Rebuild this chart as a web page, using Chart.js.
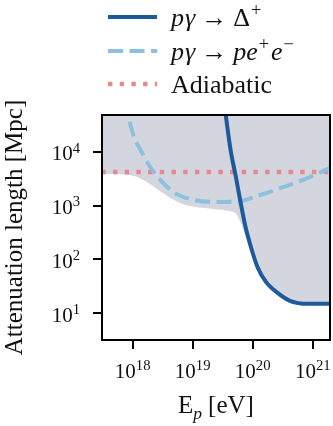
<!DOCTYPE html>
<html lang="en">
<head>
    <meta charset="UTF-8">
    <title>Attenuation length</title>
    <style>
        body {
            margin: 0;
            background: #fff;
        }
        canvas {
            display: block;
        }
    </style>
</head>
<body>
    <canvas id="chart" width="333" height="426"></canvas>

    <script src="https://cdn.jsdelivr.net/npm/chart.js"></script>
    <script>
        // values: energy in eV, attenuation length in Mpc
        const deltaE = [3.16e19, 3.55e19, 4.27e19, 5.25e19, 6.31e19, 7.59e19, 9.33e19, 1.2e20, 1.66e20, 2.63e20, 4.27e20, 8.32e20, 2.0e21];
        const deltaL = [126000, 49000, 11000, 3400, 1120, 400, 170, 72, 38, 23.4, 16.6, 14.8, 14.8];

        const pairE = [7.24e17, 8.3e17, 1.05e18, 1.35e18, 1.86e18, 2.63e18, 4.8e18, 9.3e18, 2.24e19, 5.6e19, 1.35e20, 3.3e20, 8.3e20, 2.0e21];
        const pairL = [89000, 49000, 19000, 11000, 5750, 3400, 1780, 1320, 1175, 1200, 1585, 2240, 3300, 5100];

        const adiabE = [3.0e17, 2.1e21];
        const adiabL = [4250, 4250];

        // lower edge of the shaded band (total attenuation length)
        const totalE = [2.8e17, 9.3e17, 1.5e18, 2.95e18, 5.6e18, 1.05e19, 2.24e19, 3.98e19, 5.25e19, 6.31e19, 7.24e19, 9.33e19, 1.2e20, 1.66e20, 2.63e20, 4.27e20, 8.32e20, 2.0e21];
        const totalL = [3900, 3700, 3000, 1820, 1175, 955, 870, 795, 710, 480, 316, 158, 71, 37, 23, 16.2, 14.5, 14.5];

        const xTicks = [1e18, 1e19, 1e20, 1e21];
        const yTicks = [1e1, 1e2, 1e3, 1e4];

        const FONT = '"Liberation Serif", "DejaVu Serif", serif';

        function pts(xs, ys) {
            return xs.map((x, i) => ({ x: x, y: ys[i] }));
        }

        function powParts(v) {
            return [['10', 'n'], [String(Math.round(Math.log10(v))), 'sup']];
        }

        // rich text: n = normal, i = italic, sup = superscript, sub = italic subscript, gap = space in px
        function drawRich(ctx, parts, x, y, size, measureOnly) {
            let cx = x;
            parts.forEach(p => {
                const t = p[0], s = p[1];
                if (s === 'gap') { cx += t; return; }
                let fs = size, dy = 0, style = '';
                if (s === 'i') style = 'italic ';
                if (s === 'sup') { fs = size * 0.7; dy = -size * 0.38; }
                if (s === 'sub') { fs = size * 0.7; dy = size * 0.22; style = 'italic '; }
                ctx.font = style + fs + 'px ' + FONT;
                if (!measureOnly) ctx.fillText(t, cx, y + dy);
                cx += ctx.measureText(t).width;
            });
            return cx - x;
        }

        const legendRows = [
            { ds: 0, y: 17, parts: [['p', 'i'], [1, 'gap'], ['\u03b3', 'i'], [6, 'gap'], ['\u2192', 'n'], [6, 'gap'], ['\u0394', 'n'], [1, 'gap'], ['+', 'sup']] },
            { ds: 1, y: 51, parts: [['p', 'i'], [1, 'gap'], ['\u03b3', 'i'], [6, 'gap'], ['\u2192', 'n'], [6, 'gap'], ['p', 'i'], ['e', 'i'], [1, 'gap'], ['+', 'sup'], [2, 'gap'], ['e', 'i'], [1, 'gap'], ['\u2212', 'sup']] },
            { ds: 2, y: 84, parts: [['Adiabatic', 'n']] }
        ];

        const extras = {
            id: 'extras',
            afterDatasetsDraw(chart) {
                const ctx = chart.ctx;
                const a = chart.chartArea;
                ctx.save();
                // frame round the axes
                ctx.strokeStyle = '#000';
                ctx.lineWidth = 2;
                ctx.setLineDash([]);
                ctx.strokeRect(a.left, a.top, a.right - a.left, a.bottom - a.top);
                ctx.restore();
            },
            afterDraw(chart) {
                const ctx = chart.ctx;
                const a = chart.chartArea;
                ctx.save();
                ctx.fillStyle = '#111';
                ctx.textBaseline = 'alphabetic';
                // tick labels with raised exponents
                xTicks.forEach(v => {
                    const parts = powParts(v);
                    const w = drawRich(ctx, parts, 0, 0, 21, true);
                    drawRich(ctx, parts, chart.scales.x.getPixelForValue(v) - w / 2, 378, 21);
                });
                yTicks.forEach(v => {
                    const parts = powParts(v);
                    const w = drawRich(ctx, parts, 0, 0, 21, true);
                    drawRich(ctx, parts, 80 - w, chart.scales.y.getPixelForValue(v) + 8.5, 21);
                });
                // legend
                legendRows.forEach(r => {
                    const ds = chart.data.datasets[r.ds];
                    ctx.strokeStyle = ds.borderColor;
                    ctx.lineWidth = ds.borderWidth;
                    ctx.lineCap = 'butt';
                    ctx.setLineDash(ds.borderDash || []);
                    ctx.beginPath();
                    ctx.moveTo(108, r.y);
                    ctx.lineTo(157, r.y);
                    ctx.stroke();
                    ctx.setLineDash([]);
                    drawRich(ctx, r.parts, 171, r.y + 8.5, 26);
                });
                // x axis title
                const xt = [['E', 'n'], ['p', 'sub'], [6, 'gap'], ['[eV]', 'n']];
                const w = drawRich(ctx, xt, 0, 0, 25, true);
                drawRich(ctx, xt, (a.left + a.right) / 2 - w / 2, 413, 25);
                ctx.restore();
            }
        };

        const tickStyle = {
            display: true,
            drawOnChartArea: false,
            drawTicks: true,
            tickLength: 9,
            tickWidth: 2,
            tickColor: '#000',
            color: '#000',
            lineWidth: 2
        };

        new Chart(document.getElementById('chart'), {
            type: 'line',
            data: {
                datasets: [
                    {
                        label: 'p\u03b3 \u2192 \u0394+',
                        data: pts(deltaE, deltaL),
                        borderColor: '#1c5a9c',
                        borderWidth: 4,
                        cubicInterpolationMode: 'monotone',
                        pointRadius: 0,
                        order: 1
                    },
                    {
                        label: 'p\u03b3 \u2192 pe+e\u2212',
                        data: pts(pairE, pairL),
                        borderColor: '#8cc0df',
                        borderWidth: 4,
                        borderDash: [15, 6.5],
                        cubicInterpolationMode: 'monotone',
                        pointRadius: 0,
                        order: 2
                    },
                    {
                        label: 'Adiabatic',
                        data: pts(adiabE, adiabL),
                        borderColor: '#e8878d',
                        borderWidth: 4.4,
                        borderDash: [4.4, 7.3],
                        pointRadius: 0,
                        order: 3
                    },
                    {
                        label: 'Total',
                        data: pts(totalE, totalL),
                        borderColor: 'rgba(0,0,0,0)',
                        borderWidth: 0,
                        backgroundColor: '#d3d6de',
                        fill: 'end',
                        cubicInterpolationMode: 'monotone',
                        pointRadius: 0,
                        order: 10
                    }
                ]
            },
            options: {
                responsive: false,
                animation: false,
                devicePixelRatio: 1,
                layout: {
                    padding: { top: 115, right: 3, left: 0, bottom: 0 }
                },
                plugins: {
                    legend: { display: false },
                    tooltip: { enabled: false }
                },
                scales: {
                    x: {
                        type: 'logarithmic',
                        min: 3.08e17,
                        max: 1.94e21,
                        afterBuildTicks: s => { s.ticks = xTicks.map(v => ({ value: v })); },
                        afterFit: s => { s.height = 86; },
                        grid: tickStyle,
                        border: { display: true, color: '#000', width: 2 },
                        ticks: { display: false }
                    },
                    y: {
                        type: 'logarithmic',
                        min: 3.14,
                        max: 48900,
                        afterBuildTicks: s => { s.ticks = yTicks.map(v => ({ value: v })); },
                        afterFit: s => { s.width = 102; },
                        grid: tickStyle,
                        border: { display: true, color: '#000', width: 2 },
                        ticks: { display: false },
                        title: {
                            display: true,
                            text: 'Attenuation length [Mpc]',
                            color: '#111',
                            padding: 0,
                            font: { family: FONT, size: 25 }
                        }
                    }
                }
            },
            plugins: [extras]
        });
    </script>
</body>
</html>
